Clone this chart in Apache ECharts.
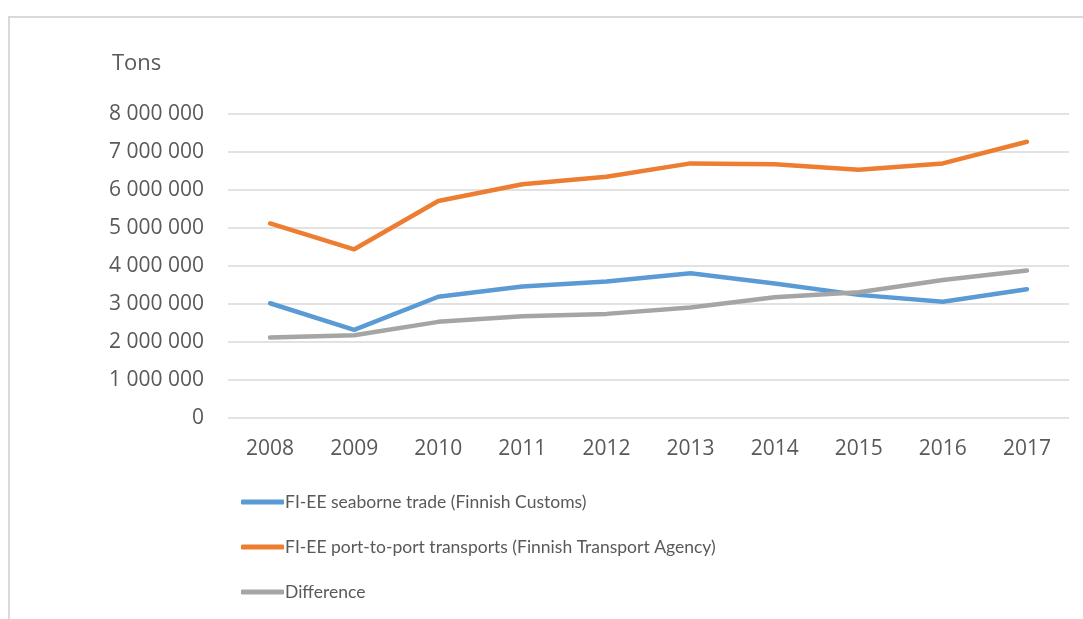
<!DOCTYPE html>
<html>
<head>
<meta charset="utf-8">
<script src="https://cdn.jsdelivr.net/npm/echarts@6/dist/echarts.min.js"></script>
<style>
html,body{margin:0;padding:0;background:#fff;}
#c{width:1083px;height:619px;}
</style>
</head>
<body>
<div id="c"></div>
<script>
const years = ['2008','2009','2010','2011','2012','2013','2014','2015','2016','2017'];
const seaborneTrade = [3020000, 2320000, 3190000, 3460000, 3590000, 3810000, 3540000, 3240000, 3060000, 3390000];
const portToPort = [5120000, 4440000, 5710000, 6150000, 6350000, 6700000, 6680000, 6530000, 6700000, 7270000];
const difference = [2120000, 2180000, 2530000, 2680000, 2740000, 2910000, 3180000, 3310000, 3630000, 3880000];
const seriesNames = [
  'FI-EE seaborne trade (Finnish Customs)',
  'FI-EE port-to-port transports (Finnish Transport Agency)',
  'Difference'
];
const yTicks = { min: 0, max: 8000000, interval: 1000000 };

const FONT = '"Open Sans", "Noto Sans", sans-serif';
const LEGEND_FONT = 'Lato, "Open Sans", sans-serif';
const TXT = '#595959';

function fmt(v) {
  return String(v).replace(/\B(?=(\d{3})+(?!\d))/g, ' ');
}

const chart = echarts.init(document.getElementById('c'), null, { renderer: 'canvas' });
chart.setOption({
  animation: false,
  backgroundColor: '#fff',
  textStyle: { fontFamily: FONT, color: TXT },
  graphic: [{
    type: 'rect',
    shape: { x: 9, y: 17, width: 1200, height: 800 },
    style: { fill: 'none', stroke: '#d9d9d9', lineWidth: 2 },
    silent: true
  }],
  title: {
    text: 'Tons',
    left: 107,
    top: 48,
    textStyle: { fontFamily: FONT, fontSize: 22, fontWeight: 'normal', color: TXT }
  },
  grid: { left: 228, right: 14, top: 114, bottom: 201, containLabel: false },
  xAxis: {
    type: 'category',
    data: years,
    boundaryGap: true,
    axisLine: { show: false },
    axisTick: { show: false },
    axisLabel: { fontFamily: FONT, fontSize: 21, color: TXT, margin: 21 }
  },
  yAxis: {
    type: 'value',
    min: yTicks.min,
    max: yTicks.max,
    interval: yTicks.interval,
    axisLine: { show: false },
    axisTick: { show: false },
    splitLine: { lineStyle: { color: '#d9d9d9', width: 1.5 } },
    axisLabel: { fontFamily: FONT, fontSize: 21, color: TXT, margin: 24, formatter: fmt }
  },
  legend: {
    orient: 'vertical',
    left: 236,
    top: 488,
    itemGap: 27,
    itemWidth: 43,
    itemHeight: 5,
    icon: 'roundRect',
    textStyle: { fontFamily: LEGEND_FONT, fontSize: 17.5, color: TXT, padding: [0, 0, 0, -4] },
    data: seriesNames
  },
  series: [
    { name: seriesNames[0], type: 'line', data: seaborneTrade, symbol: 'none', color: '#5B9BD5',
      lineStyle: { width: 4.5, color: '#5B9BD5', cap: 'round', join: 'round' } },
    { name: seriesNames[1], type: 'line', data: portToPort, symbol: 'none', color: '#ED7D31',
      lineStyle: { width: 4.5, color: '#ED7D31', cap: 'round', join: 'round' } },
    { name: seriesNames[2], type: 'line', data: difference, symbol: 'none', color: '#A5A5A5',
      lineStyle: { width: 4.5, color: '#A5A5A5', cap: 'round', join: 'round' } }
  ]
});
</script>
</body>
</html>
